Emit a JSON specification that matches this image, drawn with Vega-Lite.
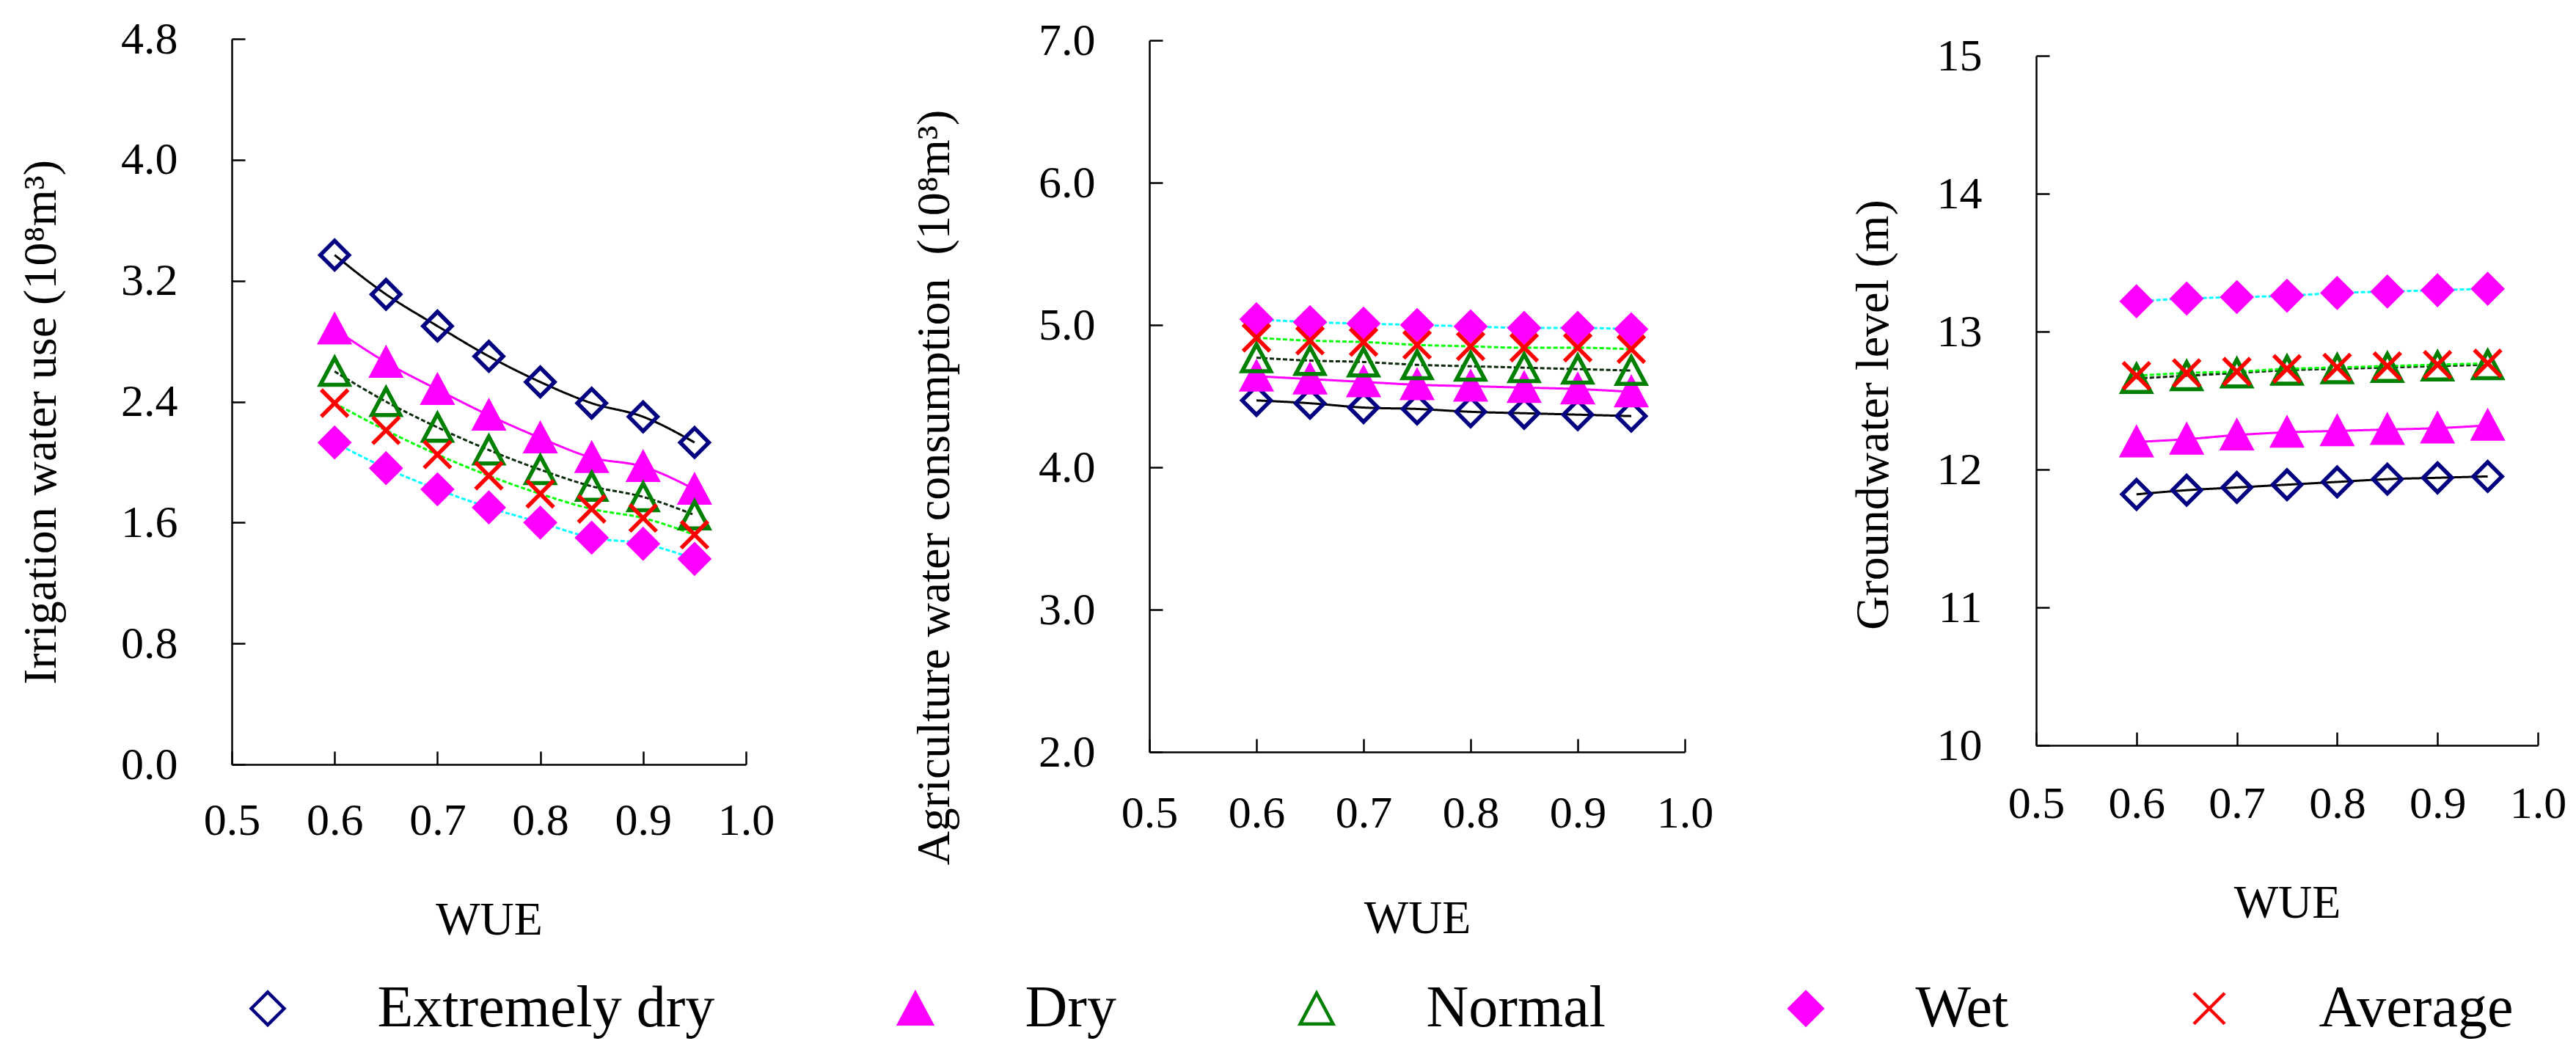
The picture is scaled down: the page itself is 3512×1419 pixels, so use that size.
{
  "$schema": "https://vega.github.io/schema/vega-lite/v6.json",
  "background": "white",
  "padding": {"left": 24, "top": 22, "right": 10, "bottom": 10},
  "data": {"values": [
    {"panel":1,"series":"Extremely dry","order":1,"wue":0.6,"value":3.37},{"panel":1,"series":"Extremely dry","order":1,"wue":0.65,"value":3.11},{"panel":1,"series":"Extremely dry","order":1,"wue":0.7,"value":2.90},{"panel":1,"series":"Extremely dry","order":1,"wue":0.75,"value":2.70},{"panel":1,"series":"Extremely dry","order":1,"wue":0.8,"value":2.53},{"panel":1,"series":"Extremely dry","order":1,"wue":0.85,"value":2.39},{"panel":1,"series":"Extremely dry","order":1,"wue":0.9,"value":2.30},{"panel":1,"series":"Extremely dry","order":1,"wue":0.95,"value":2.13},
    {"panel":1,"series":"Dry","order":2,"wue":0.6,"value":2.88},{"panel":1,"series":"Dry","order":2,"wue":0.65,"value":2.66},{"panel":1,"series":"Dry","order":2,"wue":0.7,"value":2.48},{"panel":1,"series":"Dry","order":2,"wue":0.75,"value":2.31},{"panel":1,"series":"Dry","order":2,"wue":0.8,"value":2.16},{"panel":1,"series":"Dry","order":2,"wue":0.85,"value":2.03},{"panel":1,"series":"Dry","order":2,"wue":0.9,"value":1.97},{"panel":1,"series":"Dry","order":2,"wue":0.95,"value":1.82},
    {"panel":1,"series":"Normal","order":3,"wue":0.6,"value":2.60},{"panel":1,"series":"Normal","order":3,"wue":0.65,"value":2.40},{"panel":1,"series":"Normal","order":3,"wue":0.7,"value":2.23},{"panel":1,"series":"Normal","order":3,"wue":0.75,"value":2.08},{"panel":1,"series":"Normal","order":3,"wue":0.8,"value":1.95},{"panel":1,"series":"Normal","order":3,"wue":0.85,"value":1.84},{"panel":1,"series":"Normal","order":3,"wue":0.9,"value":1.77},{"panel":1,"series":"Normal","order":3,"wue":0.95,"value":1.65},
    {"panel":1,"series":"Wet","order":4,"wue":0.6,"value":2.13},{"panel":1,"series":"Wet","order":4,"wue":0.65,"value":1.96},{"panel":1,"series":"Wet","order":4,"wue":0.7,"value":1.82},{"panel":1,"series":"Wet","order":4,"wue":0.75,"value":1.70},{"panel":1,"series":"Wet","order":4,"wue":0.8,"value":1.60},{"panel":1,"series":"Wet","order":4,"wue":0.85,"value":1.50},{"panel":1,"series":"Wet","order":4,"wue":0.9,"value":1.46},{"panel":1,"series":"Wet","order":4,"wue":0.95,"value":1.36},
    {"panel":1,"series":"Average","order":5,"wue":0.6,"value":2.39},{"panel":1,"series":"Average","order":5,"wue":0.65,"value":2.21},{"panel":1,"series":"Average","order":5,"wue":0.7,"value":2.05},{"panel":1,"series":"Average","order":5,"wue":0.75,"value":1.91},{"panel":1,"series":"Average","order":5,"wue":0.8,"value":1.79},{"panel":1,"series":"Average","order":5,"wue":0.85,"value":1.69},{"panel":1,"series":"Average","order":5,"wue":0.9,"value":1.63},{"panel":1,"series":"Average","order":5,"wue":0.95,"value":1.52},
    {"panel":2,"series":"Extremely dry","order":1,"wue":0.6,"value":4.47},{"panel":2,"series":"Extremely dry","order":1,"wue":0.65,"value":4.45},{"panel":2,"series":"Extremely dry","order":1,"wue":0.7,"value":4.42},{"panel":2,"series":"Extremely dry","order":1,"wue":0.75,"value":4.41},{"panel":2,"series":"Extremely dry","order":1,"wue":0.8,"value":4.39},{"panel":2,"series":"Extremely dry","order":1,"wue":0.85,"value":4.38},{"panel":2,"series":"Extremely dry","order":1,"wue":0.9,"value":4.37},{"panel":2,"series":"Extremely dry","order":1,"wue":0.95,"value":4.36},
    {"panel":2,"series":"Dry","order":2,"wue":0.6,"value":4.64},{"panel":2,"series":"Dry","order":2,"wue":0.65,"value":4.62},{"panel":2,"series":"Dry","order":2,"wue":0.7,"value":4.60},{"panel":2,"series":"Dry","order":2,"wue":0.75,"value":4.58},{"panel":2,"series":"Dry","order":2,"wue":0.8,"value":4.57},{"panel":2,"series":"Dry","order":2,"wue":0.85,"value":4.56},{"panel":2,"series":"Dry","order":2,"wue":0.9,"value":4.55},{"panel":2,"series":"Dry","order":2,"wue":0.95,"value":4.53},
    {"panel":2,"series":"Normal","order":3,"wue":0.6,"value":4.77},{"panel":2,"series":"Normal","order":3,"wue":0.65,"value":4.75},{"panel":2,"series":"Normal","order":3,"wue":0.7,"value":4.74},{"panel":2,"series":"Normal","order":3,"wue":0.75,"value":4.72},{"panel":2,"series":"Normal","order":3,"wue":0.8,"value":4.71},{"panel":2,"series":"Normal","order":3,"wue":0.85,"value":4.70},{"panel":2,"series":"Normal","order":3,"wue":0.9,"value":4.69},{"panel":2,"series":"Normal","order":3,"wue":0.95,"value":4.68},
    {"panel":2,"series":"Wet","order":4,"wue":0.6,"value":5.04},{"panel":2,"series":"Wet","order":4,"wue":0.65,"value":5.02},{"panel":2,"series":"Wet","order":4,"wue":0.7,"value":5.01},{"panel":2,"series":"Wet","order":4,"wue":0.75,"value":5.00},{"panel":2,"series":"Wet","order":4,"wue":0.8,"value":4.99},{"panel":2,"series":"Wet","order":4,"wue":0.85,"value":4.98},{"panel":2,"series":"Wet","order":4,"wue":0.9,"value":4.98},{"panel":2,"series":"Wet","order":4,"wue":0.95,"value":4.97},
    {"panel":2,"series":"Average","order":5,"wue":0.6,"value":4.91},{"panel":2,"series":"Average","order":5,"wue":0.65,"value":4.89},{"panel":2,"series":"Average","order":5,"wue":0.7,"value":4.88},{"panel":2,"series":"Average","order":5,"wue":0.75,"value":4.86},{"panel":2,"series":"Average","order":5,"wue":0.8,"value":4.85},{"panel":2,"series":"Average","order":5,"wue":0.85,"value":4.84},{"panel":2,"series":"Average","order":5,"wue":0.9,"value":4.84},{"panel":2,"series":"Average","order":5,"wue":0.95,"value":4.83},
    {"panel":3,"series":"Extremely dry","order":1,"wue":0.6,"value":11.82},{"panel":3,"series":"Extremely dry","order":1,"wue":0.65,"value":11.85},{"panel":3,"series":"Extremely dry","order":1,"wue":0.7,"value":11.87},{"panel":3,"series":"Extremely dry","order":1,"wue":0.75,"value":11.89},{"panel":3,"series":"Extremely dry","order":1,"wue":0.8,"value":11.91},{"panel":3,"series":"Extremely dry","order":1,"wue":0.85,"value":11.93},{"panel":3,"series":"Extremely dry","order":1,"wue":0.9,"value":11.94},{"panel":3,"series":"Extremely dry","order":1,"wue":0.95,"value":11.95},
    {"panel":3,"series":"Dry","order":2,"wue":0.6,"value":12.20},{"panel":3,"series":"Dry","order":2,"wue":0.65,"value":12.22},{"panel":3,"series":"Dry","order":2,"wue":0.7,"value":12.25},{"panel":3,"series":"Dry","order":2,"wue":0.75,"value":12.27},{"panel":3,"series":"Dry","order":2,"wue":0.8,"value":12.28},{"panel":3,"series":"Dry","order":2,"wue":0.85,"value":12.29},{"panel":3,"series":"Dry","order":2,"wue":0.9,"value":12.30},{"panel":3,"series":"Dry","order":2,"wue":0.95,"value":12.32},
    {"panel":3,"series":"Normal","order":3,"wue":0.6,"value":12.66},{"panel":3,"series":"Normal","order":3,"wue":0.65,"value":12.68},{"panel":3,"series":"Normal","order":3,"wue":0.7,"value":12.70},{"panel":3,"series":"Normal","order":3,"wue":0.75,"value":12.72},{"panel":3,"series":"Normal","order":3,"wue":0.8,"value":12.73},{"panel":3,"series":"Normal","order":3,"wue":0.85,"value":12.74},{"panel":3,"series":"Normal","order":3,"wue":0.9,"value":12.75},{"panel":3,"series":"Normal","order":3,"wue":0.95,"value":12.76},
    {"panel":3,"series":"Wet","order":4,"wue":0.6,"value":13.22},{"panel":3,"series":"Wet","order":4,"wue":0.65,"value":13.24},{"panel":3,"series":"Wet","order":4,"wue":0.7,"value":13.25},{"panel":3,"series":"Wet","order":4,"wue":0.75,"value":13.26},{"panel":3,"series":"Wet","order":4,"wue":0.8,"value":13.28},{"panel":3,"series":"Wet","order":4,"wue":0.85,"value":13.29},{"panel":3,"series":"Wet","order":4,"wue":0.9,"value":13.30},{"panel":3,"series":"Wet","order":4,"wue":0.95,"value":13.31},
    {"panel":3,"series":"Average","order":5,"wue":0.6,"value":12.68},{"panel":3,"series":"Average","order":5,"wue":0.65,"value":12.70},{"panel":3,"series":"Average","order":5,"wue":0.7,"value":12.71},{"panel":3,"series":"Average","order":5,"wue":0.75,"value":12.73},{"panel":3,"series":"Average","order":5,"wue":0.8,"value":12.74},{"panel":3,"series":"Average","order":5,"wue":0.85,"value":12.75},{"panel":3,"series":"Average","order":5,"wue":0.9,"value":12.76},{"panel":3,"series":"Average","order":5,"wue":0.95,"value":12.77}
  ]},
  "spacing": 186,
  "center": true,
  "hconcat": [
    {
      "width": 701, "height": 989,
      "transform": [{"filter": "datum.panel == 1"}],
      "layer": [
        {"mark": {"type": "line", "strokeWidth": 3, "interpolate": "monotone"},
         "encoding": {
           "x": {"field": "wue", "type": "quantitative", "scale": {"domain": [0.5, 1.0], "nice": false, "zero": false},
                 "axis": {"values": [0.5,0.6,0.7,0.8,0.9,1.0], "format": ".1f", "title": "WUE", "labelPadding": 64, "titlePadding": 73}},
           "y": {"field": "value", "type": "quantitative", "scale": {"domain": [0, 4.8], "nice": false, "zero": false},
                 "axis": {"values": [0,0.8,1.6,2.4,3.2,4.0,4.8], "format": ".1f", "title": "Irrigation water use (10⁸m³)", "titleFontSize": 64, "titleLimit": 3000, "titleY": 522, "labelPadding": 92, "titlePadding": 76}},
           "color": {"field": "series", "type": "nominal", "legend": null,
                     "scale": {"domain": ["Extremely dry","Dry","Normal","Wet","Average"], "range": ["#000000","#ff00ff","#0a2a0a","#00ffff","#00ff00"]}},
           "strokeDash": {"field": "series", "type": "nominal", "legend": null,
                          "scale": {"domain": ["Extremely dry","Dry","Normal","Wet","Average"], "range": [[1,0],[1,0],[6,3],[6,3],[6,3]]}}
         }},
        {"mark": {"type": "point", "opacity": 1, "strokeWidth": 5.5, "size": 59300, "clip": true},
         "encoding": {
           "x": {"field": "wue", "type": "quantitative"},
           "y": {"field": "value", "type": "quantitative"},
           "shape": {"field": "series", "type": "nominal", "sort": {"field": "order", "op": "min"},
                     "scale": {"range": ["M-1,0M0,-0.16L0.16,0L0,0.16L-0.16,0ZM1,0","M-1,0M0,-0.15L0.16,0.15L-0.16,0.15ZM1,0","M-1,0M0,-0.15L0.16,0.15L-0.16,0.15ZM1,0","M-1,0M0,-0.16L0.16,0L0,0.16L-0.16,0ZM1,0","M-1,0M-0.15,-0.15L0.15,0.15M-0.15,0.15L0.15,-0.15M1,0"]},
                     "legend": {"orient": "none", "legendX": -95, "legendY": 1179, "direction": "horizontal", "columns": 5, "title": null,
                                "symbolSize": 78400, "symbolStrokeWidth": 4.5, "symbolOpacity": 1, "labelFont": "Liberation Serif", "labelFontSize": 80, "labelColor": "#000000",
                                "labelLimit": 2000, "labelOffset": 7, "symbolOffset": 1.5, "columnPadding": 124, "padding": 0,
                                "encode": {"symbols": {"update": {"strokeWidth": {"value": 4.5}}}}}},
           "fill": {"field": "series", "type": "nominal", "sort": {"field": "order", "op": "min"},
                    "scale": {"range": ["transparent","#ff00ff","transparent","#ff00ff","transparent"]},
                    "legend": {"orient": "none", "legendX": -95, "legendY": 1179, "direction": "horizontal", "columns": 5, "title": null,
                                "symbolSize": 78400, "symbolStrokeWidth": 4.5, "symbolOpacity": 1, "labelFont": "Liberation Serif", "labelFontSize": 80, "labelColor": "#000000",
                                "labelLimit": 2000, "labelOffset": 7, "symbolOffset": 1.5, "columnPadding": 124, "padding": 0,
                                "encode": {"symbols": {"update": {"strokeWidth": {"value": 4.5}}}}}},
           "stroke": {"field": "series", "type": "nominal", "sort": {"field": "order", "op": "min"},
                      "scale": {"range": ["#000080","#ff00ff","#008000","#ff00ff","#ff0000"]},
                      "legend": {"orient": "none", "legendX": -95, "legendY": 1179, "direction": "horizontal", "columns": 5, "title": null,
                                "symbolSize": 78400, "symbolStrokeWidth": 4.5, "symbolOpacity": 1, "labelFont": "Liberation Serif", "labelFontSize": 80, "labelColor": "#000000",
                                "labelLimit": 2000, "labelOffset": 7, "symbolOffset": 1.5, "columnPadding": 124, "padding": 0,
                                "encode": {"symbols": {"update": {"strokeWidth": {"value": 4.5}}}}}}
         }}
      ]
    },
    {
      "width": 730, "height": 970,
      "transform": [{"filter": "datum.panel == 2"}],
      "layer": [
        {"mark": {"type": "line", "strokeWidth": 3, "interpolate": "monotone"},
         "encoding": {
           "x": {"field": "wue", "type": "quantitative", "scale": {"domain": [0.5, 1.0], "nice": false, "zero": false},
                 "axis": {"values": [0.5,0.6,0.7,0.8,0.9,1.0], "format": ".1f", "title": "WUE", "labelPadding": 71, "titlePadding": 81}},
           "y": {"field": "value", "type": "quantitative", "scale": {"domain": [2, 7], "nice": false, "zero": false},
                 "axis": {"values": [2,3,4,5,6,7], "format": ".1f", "title": "Agriculture water consumption\u00a0 (10⁸m³)", "titleFontSize": 64, "titleLimit": 3000, "titleY": 609, "labelPadding": 92, "titlePadding": 109}},
           "color": {"field": "series", "type": "nominal", "legend": null},
           "strokeDash": {"field": "series", "type": "nominal", "legend": null}
         }},
        {"mark": {"type": "point", "opacity": 1, "strokeWidth": 5.5, "size": 59300, "clip": true},
         "encoding": {
           "x": {"field": "wue", "type": "quantitative"},
           "y": {"field": "value", "type": "quantitative"},
           "shape": {"field": "series", "type": "nominal", "sort": {"field": "order", "op": "min"}},
           "fill": {"field": "series", "type": "nominal", "sort": {"field": "order", "op": "min"}},
           "stroke": {"field": "series", "type": "nominal", "sort": {"field": "order", "op": "min"}}
         }}
      ]
    },
    {
      "width": 684, "height": 940,
      "transform": [{"filter": "datum.panel == 3"}],
      "layer": [
        {"mark": {"type": "line", "strokeWidth": 3, "interpolate": "monotone"},
         "encoding": {
           "x": {"field": "wue", "type": "quantitative", "scale": {"domain": [0.5, 1.0], "nice": false, "zero": false},
                 "axis": {"values": [0.5,0.6,0.7,0.8,0.9,1.0], "format": ".1f", "title": "WUE", "labelPadding": 67, "titlePadding": 73}},
           "y": {"field": "value", "type": "quantitative", "scale": {"domain": [10, 15], "nice": false, "zero": false},
                 "axis": {"values": [10,11,12,13,14,15], "format": "d", "title": "Groundwater level (m)", "titleFontSize": 64, "titleLimit": 3000, "titleY": 489, "labelPadding": 92, "titlePadding": 54}},
           "color": {"field": "series", "type": "nominal", "legend": null},
           "strokeDash": {"field": "series", "type": "nominal", "legend": null}
         }},
        {"mark": {"type": "point", "opacity": 1, "strokeWidth": 5.5, "size": 59300, "clip": true},
         "encoding": {
           "x": {"field": "wue", "type": "quantitative"},
           "y": {"field": "value", "type": "quantitative"},
           "shape": {"field": "series", "type": "nominal", "sort": {"field": "order", "op": "min"}},
           "fill": {"field": "series", "type": "nominal", "sort": {"field": "order", "op": "min"}},
           "stroke": {"field": "series", "type": "nominal", "sort": {"field": "order", "op": "min"}}
         }}
      ]
    }
  ],
  "config": {
    "font": "Liberation Serif",
    "view": {"stroke": null},
    "axis": {"grid": false, "domainColor": "#000000", "domainWidth": 2.5, "tickColor": "#000000", "tickWidth": 2.5, "tickSize": -18,
             "labelFont": "Liberation Serif", "labelFontSize": 62, "labelColor": "#000000", "labelFlush": false, "labelOverlap": false,
             "titleFont": "Liberation Serif", "titleFontSize": 64, "titleFontWeight": "normal", "titleColor": "#000000", "titleLimit": 3000}
  }
}
